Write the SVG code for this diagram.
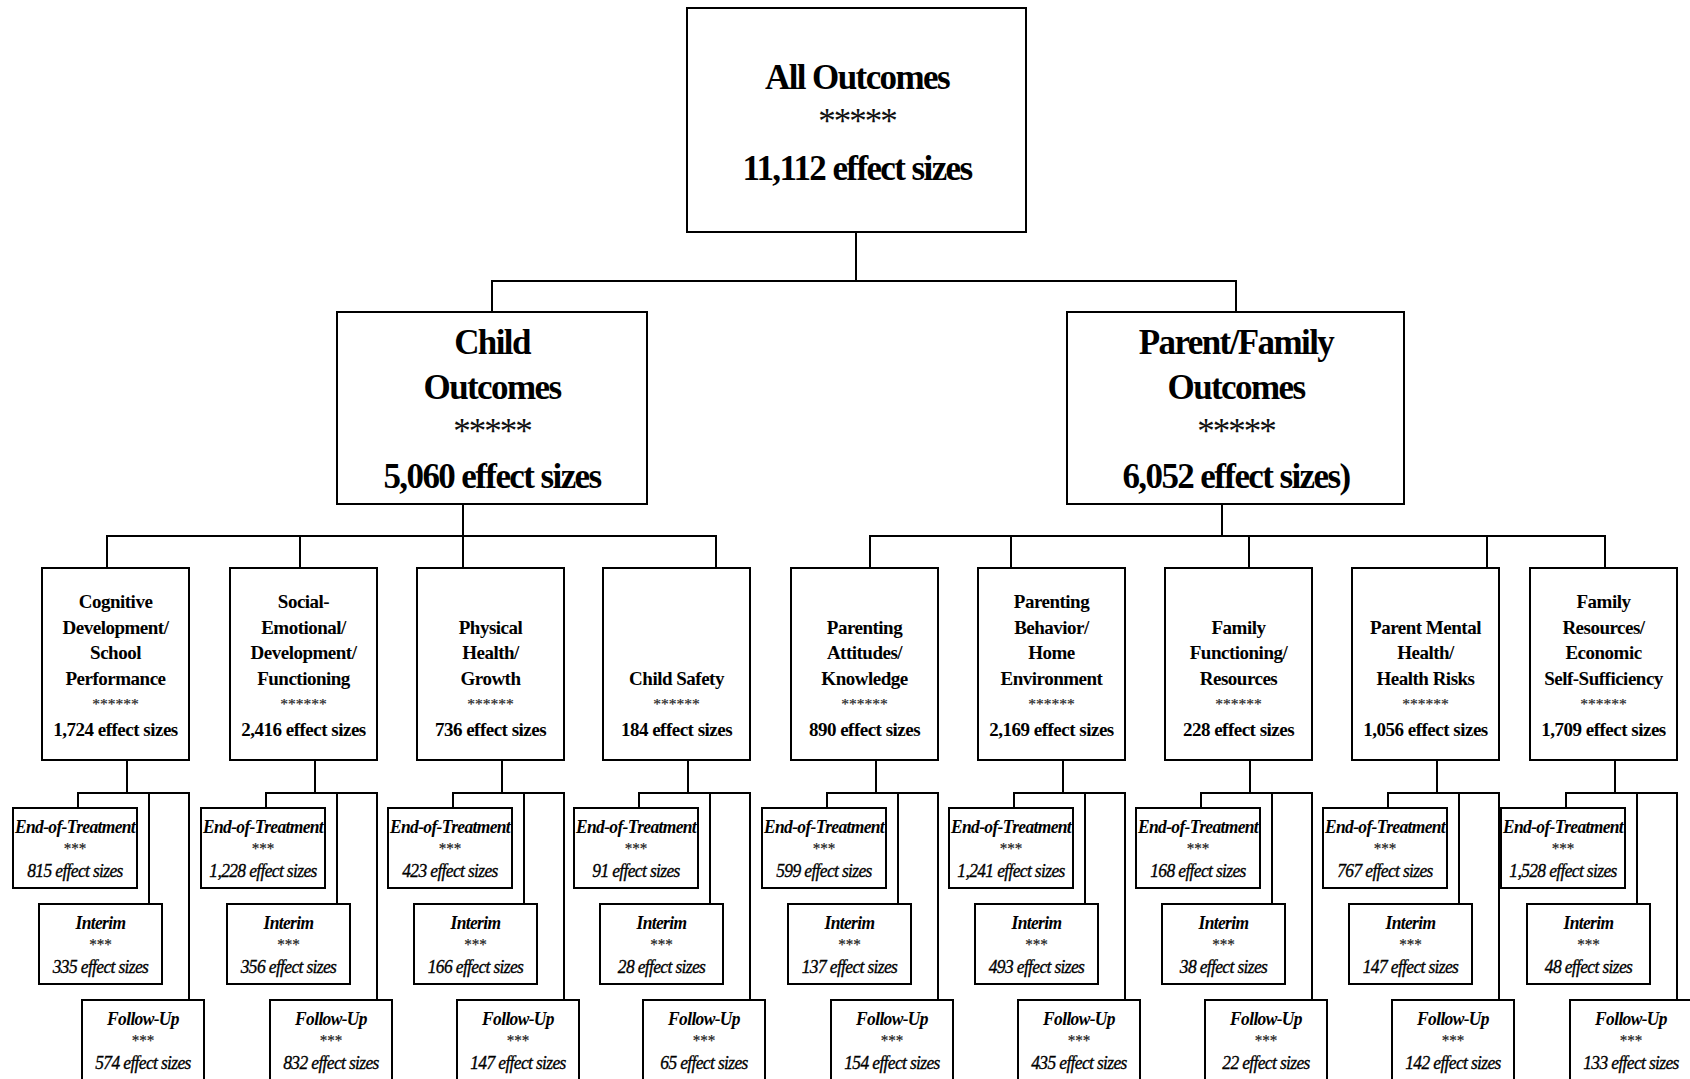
<svg xmlns="http://www.w3.org/2000/svg" width="1690" height="1079" viewBox="0 0 1690 1079">
<style>
.box{fill:#fff;stroke:#000;stroke-width:2}
.conn path{fill:none;stroke:#000;stroke-width:2}
text{font-family:"Liberation Serif","Times New Roman",serif;fill:#000;text-anchor:middle}
.h1{font-size:35px;font-weight:bold;letter-spacing:-1.6px}
.a1{font-size:35px;font-weight:normal;fill:#111;letter-spacing:-2px}
.h3{font-size:19px;font-weight:bold;letter-spacing:-0.5px}
.a3{font-size:15.5px;font-weight:normal;fill:#222;stroke:#222;stroke-width:0.2px}
.h4{font-size:19px;font-weight:bold;font-style:italic;letter-spacing:-0.7px}
.c4{font-size:19px;font-weight:normal;font-style:italic;stroke:#000;stroke-width:0.35px;letter-spacing:-0.7px}
.a4{font-size:16.5px;font-weight:normal;fill:#222;stroke:#222;stroke-width:0.2px}
</style>
<rect width="1690" height="1079" fill="#fff"/>
<g id="connectors" class="conn">
<path d="M856 232V281M492 312V281H1236V312"/>
<path d="M463 504V568M107 568V536H716V568M300 536V568"/>
<path d="M1222 504V536M870 568V536H1605V568M1011 536V568M1249 536V568M1487 536V568"/>
<path d="M127 760V793M78 808V793H189V1000M149 793V904"/>
<path d="M315 760V793M266 808V793H377V1000M337 793V904"/>
<path d="M502 760V793M453 808V793H564V1000M524 793V904"/>
<path d="M688 760V793M639 808V793H750V1000M710 793V904"/>
<path d="M876 760V793M827 808V793H938V1000M898 793V904"/>
<path d="M1063 760V793M1014 808V793H1125V1000M1085 793V904"/>
<path d="M1250 760V793M1201 808V793H1312V1000M1272 793V904"/>
<path d="M1437 760V793M1388 808V793H1499V1000M1459 793V904"/>
<path d="M1615 760V793M1566 808V793H1677V1000M1637 793V904"/>
</g>
<g id="all-outcomes">
<rect class="box" x="687" y="8" width="339" height="224"/>
<g transform="translate(857 0)">
<text class="h1" x="0" y="89">All Outcomes</text>
<text class="a1" x="0" y="133">*****</text>
<text class="h1" x="0" y="180">11,112 effect sizes</text>
</g>
</g>
<g id="child-outcomes">
<rect class="box" x="337" y="312" width="310" height="192"/>
<g transform="translate(492 0)">
<text class="h1" x="0" y="354">Child</text>
<text class="h1" x="0" y="399">Outcomes</text>
<text class="a1" x="0" y="443">*****</text>
<text class="h1" x="0" y="488">5,060 effect sizes</text>
</g>
</g>
<g id="parent-family-outcomes">
<rect class="box" x="1067" y="312" width="337" height="192"/>
<g transform="translate(1236 0)">
<text class="h1" x="0" y="354">Parent/Family</text>
<text class="h1" x="0" y="399">Outcomes</text>
<text class="a1" x="0" y="443">*****</text>
<text class="h1" x="0" y="488">6,052 effect sizes)</text>
</g>
</g>

<g id="cognitive">
<rect class="box" x="42" y="568" width="147" height="192"/>
<g transform="translate(115.5 0)">
<text class="h3" x="0" y="608">Cognitive</text>
<text class="h3" x="0" y="633.7">Development/</text>
<text class="h3" x="0" y="659.3">School</text>
<text class="h3" x="0" y="685">Performance</text>
<text class="a3" x="0" y="709">******</text>
<text class="h3" x="0" y="736">1,724 effect sizes</text>
</g>
</g>
<g id="social">
<rect class="box" x="230" y="568" width="147" height="192"/>
<g transform="translate(303.5 0)">
<text class="h3" x="0" y="608">Social-</text>
<text class="h3" x="0" y="633.7">Emotional/</text>
<text class="h3" x="0" y="659.3">Development/</text>
<text class="h3" x="0" y="685">Functioning</text>
<text class="a3" x="0" y="709">******</text>
<text class="h3" x="0" y="736">2,416 effect sizes</text>
</g>
</g>
<g id="physical">
<rect class="box" x="417" y="568" width="147" height="192"/>
<g transform="translate(490.5 0)">
<text class="h3" x="0" y="633.7">Physical</text>
<text class="h3" x="0" y="659.3">Health/</text>
<text class="h3" x="0" y="685">Growth</text>
<text class="a3" x="0" y="709">******</text>
<text class="h3" x="0" y="736">736 effect sizes</text>
</g>
</g>
<g id="child-safety">
<rect class="box" x="603" y="568" width="147" height="192"/>
<g transform="translate(676.5 0)">
<text class="h3" x="0" y="685">Child Safety</text>
<text class="a3" x="0" y="709">******</text>
<text class="h3" x="0" y="736">184 effect sizes</text>
</g>
</g>
<g id="parenting-attitudes">
<rect class="box" x="791" y="568" width="147" height="192"/>
<g transform="translate(864.5 0)">
<text class="h3" x="0" y="633.7">Parenting</text>
<text class="h3" x="0" y="659.3">Attitudes/</text>
<text class="h3" x="0" y="685">Knowledge</text>
<text class="a3" x="0" y="709">******</text>
<text class="h3" x="0" y="736">890 effect sizes</text>
</g>
</g>
<g id="parenting-behavior">
<rect class="box" x="978" y="568" width="147" height="192"/>
<g transform="translate(1051.5 0)">
<text class="h3" x="0" y="608">Parenting</text>
<text class="h3" x="0" y="633.7">Behavior/</text>
<text class="h3" x="0" y="659.3">Home</text>
<text class="h3" x="0" y="685">Environment</text>
<text class="a3" x="0" y="709">******</text>
<text class="h3" x="0" y="736">2,169 effect sizes</text>
</g>
</g>
<g id="family-functioning">
<rect class="box" x="1165" y="568" width="147" height="192"/>
<g transform="translate(1238.5 0)">
<text class="h3" x="0" y="633.7">Family</text>
<text class="h3" x="0" y="659.3">Functioning/</text>
<text class="h3" x="0" y="685">Resources</text>
<text class="a3" x="0" y="709">******</text>
<text class="h3" x="0" y="736">228 effect sizes</text>
</g>
</g>
<g id="parent-mental-health">
<rect class="box" x="1352" y="568" width="147" height="192"/>
<g transform="translate(1425.5 0)">
<text class="h3" x="0" y="633.7">Parent Mental</text>
<text class="h3" x="0" y="659.3">Health/</text>
<text class="h3" x="0" y="685">Health Risks</text>
<text class="a3" x="0" y="709">******</text>
<text class="h3" x="0" y="736">1,056 effect sizes</text>
</g>
</g>
<g id="family-resources">
<rect class="box" x="1530" y="568" width="147" height="192"/>
<g transform="translate(1603.5 0)">
<text class="h3" x="0" y="608">Family</text>
<text class="h3" x="0" y="633.7">Resources/</text>
<text class="h3" x="0" y="659.3">Economic</text>
<text class="h3" x="0" y="685">Self-Sufficiency</text>
<text class="a3" x="0" y="709">******</text>
<text class="h3" x="0" y="736">1,709 effect sizes</text>
</g>
</g>

<g id="cognitive-eot"><rect class="box" x="13" y="808" width="124" height="80"/><g transform="translate(75 0) scale(0.92 1)"><text class="h4" x="0" y="833">End-of-Treatment</text><text class="a4" x="0" y="854">***</text><text class="c4" x="0" y="877">815 effect sizes</text></g></g>
<g id="cognitive-interim"><rect class="box" x="39" y="904" width="123" height="80"/><g transform="translate(100.5 0) scale(0.92 1)"><text class="h4" x="0" y="929">Interim</text><text class="a4" x="0" y="950">***</text><text class="c4" x="0" y="973">335 effect sizes</text></g></g>
<g id="cognitive-fu"><rect class="box" x="82" y="1000" width="122" height="90"/><g transform="translate(143 0) scale(0.92 1)"><text class="h4" x="0" y="1025">Follow-Up</text><text class="a4" x="0" y="1046">***</text><text class="c4" x="0" y="1069">574 effect sizes</text></g></g>

<g id="social-eot"><rect class="box" x="201" y="808" width="124" height="80"/><g transform="translate(263 0) scale(0.92 1)"><text class="h4" x="0" y="833">End-of-Treatment</text><text class="a4" x="0" y="854">***</text><text class="c4" x="0" y="877">1,228 effect sizes</text></g></g>
<g id="social-interim"><rect class="box" x="227" y="904" width="123" height="80"/><g transform="translate(288.5 0) scale(0.92 1)"><text class="h4" x="0" y="929">Interim</text><text class="a4" x="0" y="950">***</text><text class="c4" x="0" y="973">356 effect sizes</text></g></g>
<g id="social-fu"><rect class="box" x="270" y="1000" width="122" height="90"/><g transform="translate(331 0) scale(0.92 1)"><text class="h4" x="0" y="1025">Follow-Up</text><text class="a4" x="0" y="1046">***</text><text class="c4" x="0" y="1069">832 effect sizes</text></g></g>

<g id="physical-eot"><rect class="box" x="388" y="808" width="124" height="80"/><g transform="translate(450 0) scale(0.92 1)"><text class="h4" x="0" y="833">End-of-Treatment</text><text class="a4" x="0" y="854">***</text><text class="c4" x="0" y="877">423 effect sizes</text></g></g>
<g id="physical-interim"><rect class="box" x="414" y="904" width="123" height="80"/><g transform="translate(475.5 0) scale(0.92 1)"><text class="h4" x="0" y="929">Interim</text><text class="a4" x="0" y="950">***</text><text class="c4" x="0" y="973">166 effect sizes</text></g></g>
<g id="physical-fu"><rect class="box" x="457" y="1000" width="122" height="90"/><g transform="translate(518 0) scale(0.92 1)"><text class="h4" x="0" y="1025">Follow-Up</text><text class="a4" x="0" y="1046">***</text><text class="c4" x="0" y="1069">147 effect sizes</text></g></g>

<g id="safety-eot"><rect class="box" x="574" y="808" width="124" height="80"/><g transform="translate(636 0) scale(0.92 1)"><text class="h4" x="0" y="833">End-of-Treatment</text><text class="a4" x="0" y="854">***</text><text class="c4" x="0" y="877">91 effect sizes</text></g></g>
<g id="safety-interim"><rect class="box" x="600" y="904" width="123" height="80"/><g transform="translate(661.5 0) scale(0.92 1)"><text class="h4" x="0" y="929">Interim</text><text class="a4" x="0" y="950">***</text><text class="c4" x="0" y="973">28 effect sizes</text></g></g>
<g id="safety-fu"><rect class="box" x="643" y="1000" width="122" height="90"/><g transform="translate(704 0) scale(0.92 1)"><text class="h4" x="0" y="1025">Follow-Up</text><text class="a4" x="0" y="1046">***</text><text class="c4" x="0" y="1069">65 effect sizes</text></g></g>

<g id="attitudes-eot"><rect class="box" x="762" y="808" width="124" height="80"/><g transform="translate(824 0) scale(0.92 1)"><text class="h4" x="0" y="833">End-of-Treatment</text><text class="a4" x="0" y="854">***</text><text class="c4" x="0" y="877">599 effect sizes</text></g></g>
<g id="attitudes-interim"><rect class="box" x="788" y="904" width="123" height="80"/><g transform="translate(849.5 0) scale(0.92 1)"><text class="h4" x="0" y="929">Interim</text><text class="a4" x="0" y="950">***</text><text class="c4" x="0" y="973">137 effect sizes</text></g></g>
<g id="attitudes-fu"><rect class="box" x="831" y="1000" width="122" height="90"/><g transform="translate(892 0) scale(0.92 1)"><text class="h4" x="0" y="1025">Follow-Up</text><text class="a4" x="0" y="1046">***</text><text class="c4" x="0" y="1069">154 effect sizes</text></g></g>

<g id="behavior-eot"><rect class="box" x="949" y="808" width="124" height="80"/><g transform="translate(1011 0) scale(0.92 1)"><text class="h4" x="0" y="833">End-of-Treatment</text><text class="a4" x="0" y="854">***</text><text class="c4" x="0" y="877">1,241 effect sizes</text></g></g>
<g id="behavior-interim"><rect class="box" x="975" y="904" width="123" height="80"/><g transform="translate(1036.5 0) scale(0.92 1)"><text class="h4" x="0" y="929">Interim</text><text class="a4" x="0" y="950">***</text><text class="c4" x="0" y="973">493 effect sizes</text></g></g>
<g id="behavior-fu"><rect class="box" x="1018" y="1000" width="122" height="90"/><g transform="translate(1079 0) scale(0.92 1)"><text class="h4" x="0" y="1025">Follow-Up</text><text class="a4" x="0" y="1046">***</text><text class="c4" x="0" y="1069">435 effect sizes</text></g></g>

<g id="functioning-eot"><rect class="box" x="1136" y="808" width="124" height="80"/><g transform="translate(1198 0) scale(0.92 1)"><text class="h4" x="0" y="833">End-of-Treatment</text><text class="a4" x="0" y="854">***</text><text class="c4" x="0" y="877">168 effect sizes</text></g></g>
<g id="functioning-interim"><rect class="box" x="1162" y="904" width="123" height="80"/><g transform="translate(1223.5 0) scale(0.92 1)"><text class="h4" x="0" y="929">Interim</text><text class="a4" x="0" y="950">***</text><text class="c4" x="0" y="973">38 effect sizes</text></g></g>
<g id="functioning-fu"><rect class="box" x="1205" y="1000" width="122" height="90"/><g transform="translate(1266 0) scale(0.92 1)"><text class="h4" x="0" y="1025">Follow-Up</text><text class="a4" x="0" y="1046">***</text><text class="c4" x="0" y="1069">22 effect sizes</text></g></g>

<g id="mental-eot"><rect class="box" x="1323" y="808" width="124" height="80"/><g transform="translate(1385 0) scale(0.92 1)"><text class="h4" x="0" y="833">End-of-Treatment</text><text class="a4" x="0" y="854">***</text><text class="c4" x="0" y="877">767 effect sizes</text></g></g>
<g id="mental-interim"><rect class="box" x="1349" y="904" width="123" height="80"/><g transform="translate(1410.5 0) scale(0.92 1)"><text class="h4" x="0" y="929">Interim</text><text class="a4" x="0" y="950">***</text><text class="c4" x="0" y="973">147 effect sizes</text></g></g>
<g id="mental-fu"><rect class="box" x="1392" y="1000" width="122" height="90"/><g transform="translate(1453 0) scale(0.92 1)"><text class="h4" x="0" y="1025">Follow-Up</text><text class="a4" x="0" y="1046">***</text><text class="c4" x="0" y="1069">142 effect sizes</text></g></g>

<g id="resources-eot"><rect class="box" x="1501" y="808" width="124" height="80"/><g transform="translate(1563 0) scale(0.92 1)"><text class="h4" x="0" y="833">End-of-Treatment</text><text class="a4" x="0" y="854">***</text><text class="c4" x="0" y="877">1,528 effect sizes</text></g></g>
<g id="resources-interim"><rect class="box" x="1527" y="904" width="123" height="80"/><g transform="translate(1588.5 0) scale(0.92 1)"><text class="h4" x="0" y="929">Interim</text><text class="a4" x="0" y="950">***</text><text class="c4" x="0" y="973">48 effect sizes</text></g></g>
<g id="resources-fu"><rect class="box" x="1570" y="1000" width="122" height="90"/><g transform="translate(1631 0) scale(0.92 1)"><text class="h4" x="0" y="1025">Follow-Up</text><text class="a4" x="0" y="1046">***</text><text class="c4" x="0" y="1069">133 effect sizes</text></g></g>
</svg>
